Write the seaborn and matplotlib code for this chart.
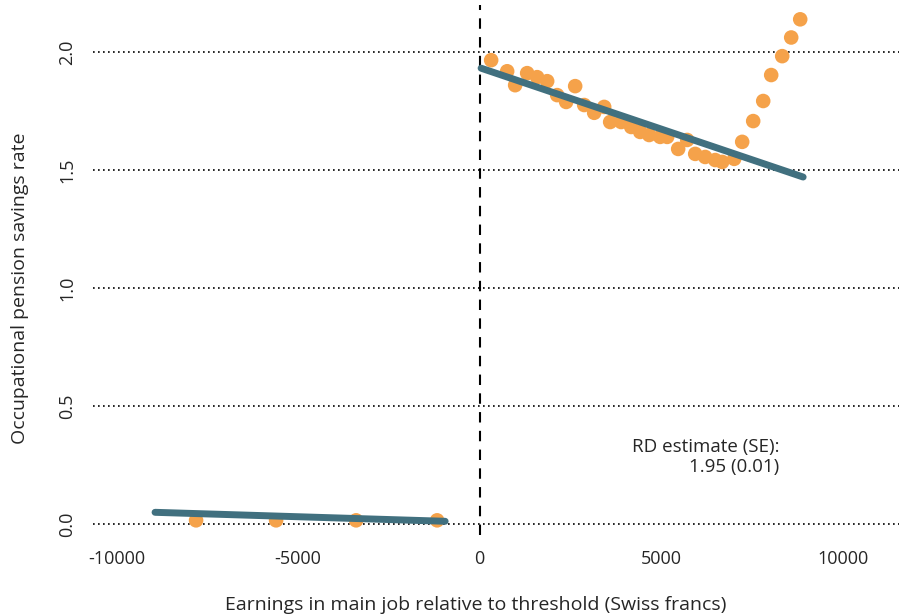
import numpy as np
import pandas as pd
import matplotlib
matplotlib.use("Agg")
import matplotlib.pyplot as plt
import seaborn as sns

# Binned means, left and right of the threshold
left_x = [-7810, -5606, -3402, -1171]
left_y = [0.017, 0.017, 0.017, 0.017]

right_x = [317, 758, 978, 1309, 1584, 1860, 2135, 2383, 2631, 2879, 3154,
           3430, 3595, 3898, 4174, 4421, 4669, 4972, 5165, 5468, 5716, 5937,
           6212, 6488, 6680, 7011, 7231, 7534, 7810, 8030, 8333, 8581, 8829]
right_y = [1.966, 1.919, 1.860, 1.911, 1.894, 1.877, 1.818, 1.789, 1.856,
           1.776, 1.743, 1.768, 1.704, 1.704, 1.683, 1.662, 1.649, 1.641,
           1.641, 1.590, 1.628, 1.569, 1.556, 1.543, 1.535, 1.548, 1.620,
           1.708, 1.793, 1.903, 1.983, 2.062, 2.139]

# Fitted lines (end points)
fit_left_x = [-8940, -950]
fit_left_y = [0.051, 0.013]
fit_right_x = [40, 8910]
fit_right_y = [1.932, 1.471]

y_ticks = [0.0, 0.5, 1.0, 1.5, 2.0]
x_ticks = [-10000, -5000, 0, 5000, 10000]
rd_text = "RD estimate (SE):\n1.95 (0.01)"

points = pd.DataFrame({"x": left_x + right_x, "y": left_y + right_y})

sns.set_style("white")
plt.rcParams["font.family"] = ["Open Sans", "DejaVu Sans"]

fig = plt.figure(figsize=(8.99, 6.14), dpi=100)
ax = fig.add_axes([0.1034, 0.1287, 0.8966, 0.8633])

for yt in y_ticks:
    ax.axhline(yt, color="black", linestyle=(0, (1, 2)), linewidth=1.2, zorder=1)
ax.axvline(0, color="black", linestyle=(0, (5, 4)), linewidth=1.5, zorder=1)

sns.scatterplot(data=points, x="x", y="y", ax=ax, color="#f5a24a", s=110,
                edgecolor="none", zorder=2)
sns.lineplot(x=fit_left_x, y=fit_left_y, ax=ax, color="#41707f", linewidth=5, zorder=3)
sns.lineplot(x=fit_right_x, y=fit_right_y, ax=ax, color="#41707f", linewidth=5, zorder=3)

ax.text(8250, 0.365, rd_text, ha="right", va="top", fontsize=13.5, linespacing=1.15)

ax.set_xlim(-10650, 11550)
ax.set_ylim(-0.045, 2.2)
ax.set_xticks(x_ticks)
ax.set_yticks(y_ticks)
ax.set_xticklabels([str(v) for v in x_ticks], fontsize=13)
ax.set_yticklabels([f"{v:.1f}" for v in y_ticks], fontsize=13, rotation=90, va="center")
ax.tick_params(axis="both", length=0)
ax.tick_params(axis="x", pad=11)
ax.tick_params(axis="y", pad=12)
sns.despine(ax=ax, left=True, bottom=True)

ax.set_xlabel("Earnings in main job relative to threshold (Swiss francs)", fontsize=14)
ax.set_ylabel("Occupational pension savings rate", fontsize=14)
ax.xaxis.set_label_coords(0.475, -0.115)
ax.yaxis.set_label_coords(-0.079, 0.466)

fig.savefig("out.png", dpi=100)
